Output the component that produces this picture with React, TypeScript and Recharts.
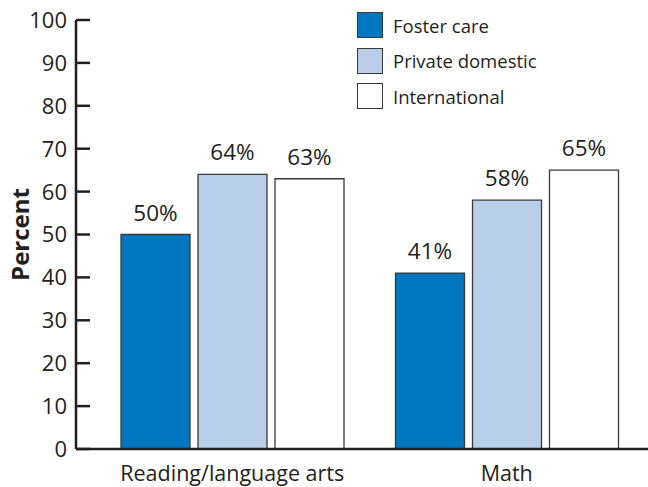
import { Bar, BarChart, LabelList, Legend, XAxis, YAxis } from "recharts";

const subjects = ["Reading/language arts", "Math"];
const fosterCare = [50, 41];
const privateDomestic = [64, 58];
const international = [63, 65];
const yTicks = [0, 10, 20, 30, 40, 50, 60, 70, 80, 90, 100];

const seriesNames = ["Foster care", "Private domestic", "International"];
const seriesColors = ["#0077c0", "#b9cfe9", "#ffffff"];

const data = subjects.map((subject, i) => ({
  subject,
  foster: fosterCare[i],
  privateDomestic: privateDomestic[i],
  international: international[i]
}));

const FONT = "'Open Sans', sans-serif";
const INK = "#231f20";

const labelStyle = { fill: INK, fontSize: 22.5, fontFamily: FONT };

export default function App() {
  return (
    <div style={{ position: "absolute", left: 0, top: 0 }}>
      <BarChart
        width={648}
        height={487}
        data={data}
        margin={{ top: 20, right: 0, left: 0, bottom: 0 }}
        barGap={8}
        barSize={69}
        style={{ fontFamily: FONT }}
      >
        <XAxis
          dataKey="subject"
          height={38}
          padding={{ left: 19, right: 4 }}
          tickLine={false}
          tickSize={0}
          tickMargin={17}
          axisLine={{ stroke: INK, strokeWidth: 2.5 }}
          tick={{ fill: INK, fontSize: 21.5, fontFamily: FONT }}
        />
        <YAxis
          width={76}
          domain={[0, 100]}
          ticks={yTicks}
          interval={0}
          tickLine={false}
          tickSize={0}
          tickMargin={9}
          axisLine={{ stroke: INK, strokeWidth: 2.5 }}
          tick={<YTick />}
          label={{
            value: "Percent",
            angle: -90,
            position: "insideLeft",
            offset: 20,
            style: { fill: INK, fontSize: 24, fontWeight: 700, fontFamily: FONT, textAnchor: "middle" }
          }}
        />
        <Legend
          layout="horizontal"
          verticalAlign="middle"
          align="center"
          wrapperStyle={{ top: 12, left: 357, width: 220, height: 100 }}
          content={<ChartLegend />}
        />
        <Bar dataKey="foster" name={seriesNames[0]} fill={seriesColors[0]} stroke="#3a3a3a" strokeWidth={1.3} isAnimationActive={false}>
          <LabelList dataKey="foster" position="top" offset={14} formatter={(v: any) => `${v}%`} style={labelStyle} />
        </Bar>
        <Bar dataKey="privateDomestic" name={seriesNames[1]} fill={seriesColors[1]} stroke="#3a3a3a" strokeWidth={1.3} isAnimationActive={false}>
          <LabelList dataKey="privateDomestic" position="top" offset={14} formatter={(v: any) => `${v}%`} style={labelStyle} />
        </Bar>
        <Bar dataKey="international" name={seriesNames[2]} fill={seriesColors[2]} stroke="#3a3a3a" strokeWidth={1.3} isAnimationActive={false}>
          <LabelList dataKey="international" position="top" offset={14} formatter={(v: any) => `${v}%`} style={labelStyle} />
        </Bar>
      </BarChart>
    </div>
  );
}

function YTick({ x, y, payload }: { x?: number, y?: number, payload?: any }) {
  return (
    <g>
      <line x1={(x ?? 0) + 9} x2={(x ?? 0) + 23} y1={y} y2={y} stroke={INK} strokeWidth={2.5} />
      <text x={x} y={y} dy="0.36em" textAnchor="end" fill={INK} fontSize={22} fontFamily={FONT}>
        {payload?.value}
      </text>
    </g>
  );
}

function ChartLegend() {
  return (
    <div style={{ display: "flex", flexDirection: "column", gap: 9.5 }}>
      {seriesNames.map((name, i) => (
        <div key={name} style={{ display: "flex", alignItems: "center", height: 26 }}>
          <span
            style={{
              width: 24,
              height: 24,
              background: seriesColors[i],
              border: "1.3px solid #3a3a3a",
              display: "inline-block"
            }}
          />
          <span style={{ marginLeft: 10, fontSize: 18.5, fontFamily: FONT, color: INK }}>{name}</span>
        </div>
      ))}
    </div>
  );
}
